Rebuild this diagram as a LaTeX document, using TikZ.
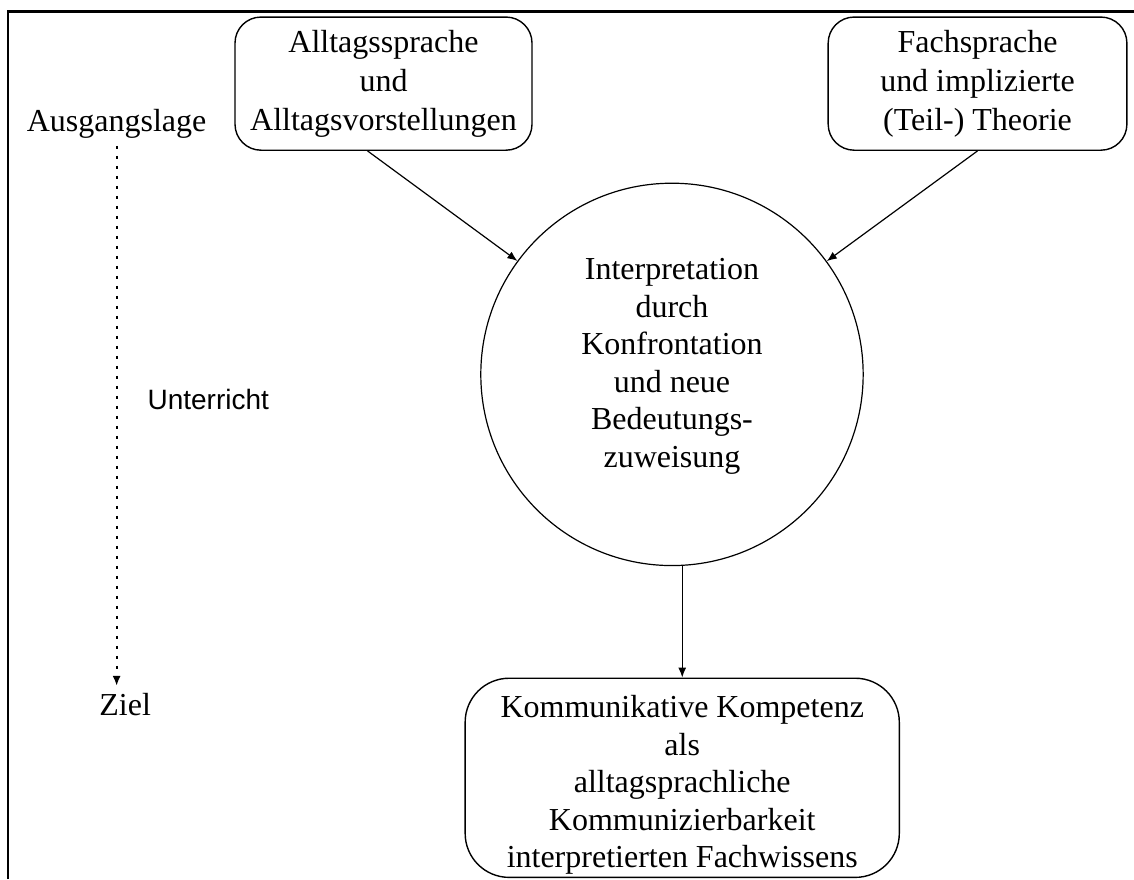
\documentclass[tikz,border=0pt]{standalone}
\usepackage{fontspec}
\setmainfont{Liberation Serif}
\newfontfamily\labelsans{Liberation Sans}
\usetikzlibrary{arrows.meta}

\begin{document}
\begin{tikzpicture}[
    font=\fontsize{16}{18.75}\selectfont,
    every node/.style={align=center},
    roundbox/.style={draw, rounded corners=13pt, line width=0.7pt, inner sep=0pt},
    arrow/.style={-{Latex[length=5pt,width=4pt]}, line width=0.6pt},
]

% page size
\useasboundingbox (0,0) rectangle (19.93,15.45);

% frame (top and left only)
\draw[line width=1.3pt] (0.14,0) -- (0.14,15.25) -- (19.93,15.25);

% ========== Starting points ==========
\node[roundbox, minimum width=5.22cm, minimum height=2.34cm, font=\fontsize{16}{19.5}\selectfont] (alltag) at (6.74,13.98) {Alltagssprache\\und\\Alltagsvorstellungen};
\node[roundbox, minimum width=5.25cm, minimum height=2.34cm, font=\fontsize{16}{19.5}\selectfont] (fach) at (17.18,13.98) {Fachsprache\\und implizierte\\(Teil-) Theorie};

% ========== Interpretation ==========
\node[draw, circle, minimum size=6.72cm, inner sep=0pt, line width=0.6pt] (interp) at (11.81,8.87) {};
\node (interptext) at ([yshift=4pt]interp.center) {Interpretation\\durch\\Konfrontation\\und neue\\Bedeutungs-\\zuweisung};

% ========== Goal ==========
\node[roundbox, rounded corners=22pt, minimum width=7.63cm, minimum height=3.5cm] (kompetenz) at (11.99,1.78) {};
\node (kompetenztext) at ([yshift=-3.5pt]kompetenz.center) {Kommunikative Kompetenz\\als\\alltagsprachliche\\Kommunizierbarkeit\\interpretierten Fachwissens};

% left side: time axis
\node[anchor=base] (ausgang) at (2.05,13.13) {Ausgangslage};
\node[anchor=base] (ziel) at (2.20,2.88) {Ziel};
\node[anchor=base, font=\labelsans\fontsize{14}{16}\selectfont] (unterricht) at (3.66,8.26) {Unterricht};
\draw[line width=1pt, dash pattern=on 1.5pt off 3.5pt, -{Latex[length=5pt,width=4pt]}] (ausgang.south) -- (ausgang.south |- ziel.north);

% connectors
\draw[arrow] ([xshift=-8pt]alltag.south) -- (interp);
\draw[arrow] (fach.south) -- (interp);
\draw[arrow] (interp.south -| kompetenz.north) -- (kompetenz.north);

\end{tikzpicture}
\end{document}
